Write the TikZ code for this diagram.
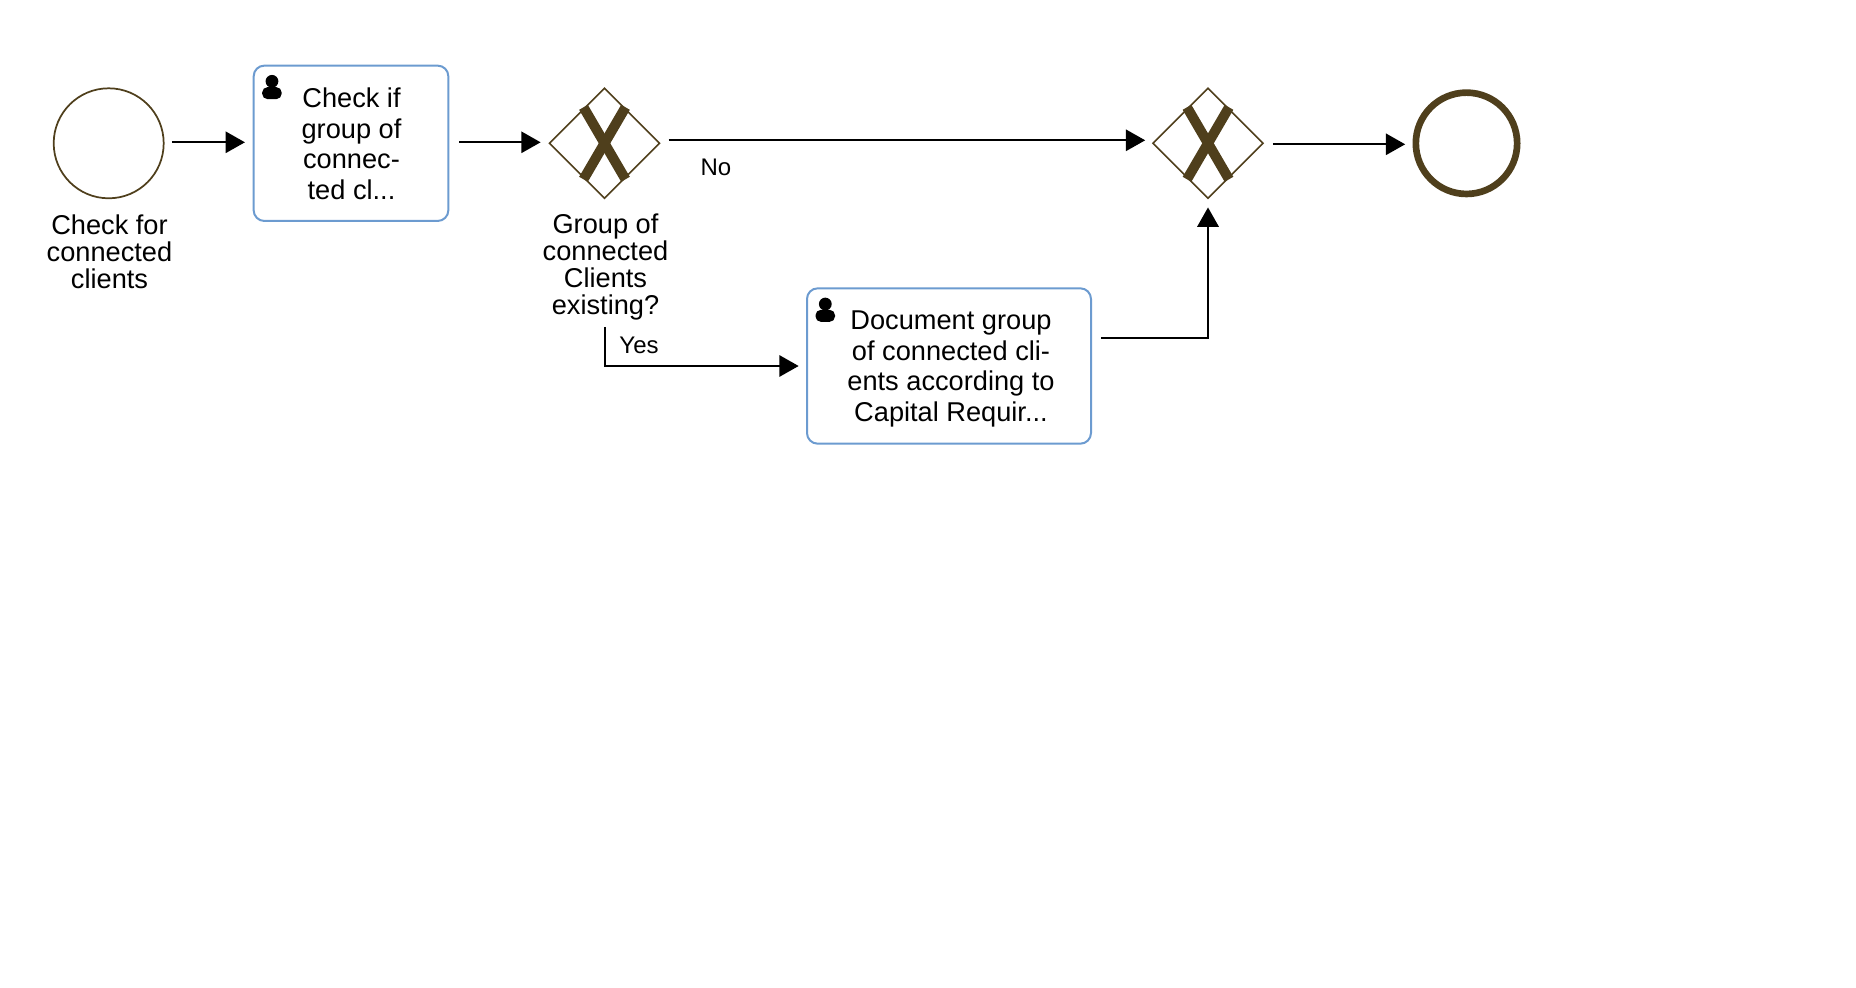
\documentclass[tikz,border=0pt]{standalone}
\usepackage{fontspec}
\setmainfont{Liberation Sans}
\usetikzlibrary{shapes.geometric,arrows.meta}
\definecolor{bpmnbrown}{HTML}{4F3F1C}
\definecolor{taskblue}{HTML}{6C9BD0}
\tikzset{
  bpmnevent/.style={circle,draw=bpmnbrown,line width=1.3pt,minimum size=82.5pt,inner sep=0pt},
  bpmnend/.style={circle,draw=bpmnbrown,line width=5pt,minimum size=76pt,inner sep=0pt},
  bpmngate/.style={diamond,draw=bpmnbrown,line width=1.2pt,minimum width=83pt,minimum height=83pt,inner sep=0pt,aspect=1},
  bpmntask/.style={rectangle,rounded corners=8pt,draw=taskblue,line width=1.5pt,inner sep=0pt},
  tasktext/.style={align=center,inner sep=0pt,font=\fontsize{20.4}{22.9}\selectfont},
  caption/.style={align=center,inner sep=0pt,font=\fontsize{20.4}{20.1}\selectfont},
  flowlabel/.style={inner sep=0pt,font=\fontsize{18}{20}\selectfont},
  flow/.style={line width=1.5pt,-{Triangle[length=14.5pt,width=16pt]}},
}
\begin{document}
\begin{tikzpicture}[x=0.75pt,y=-0.75pt]
\useasboundingbox (0,0) rectangle (1856,988);

\node[bpmnevent] (start) at (108.7,143.3) {};
\node[bpmntask,minimum width=146pt,minimum height=116.5pt] (taskA) at (351,143.3) {};
\node[bpmngate] (gateA) at (604.5,143.3) {};
\node[bpmngate] (gateB) at (1208,143.3) {};
\node[bpmnend] (end) at (1466.5,143.3) {};
\node[bpmntask,minimum width=213pt,minimum height=116.5pt] (taskB) at (949,366) {};

\node[tasktext] (taskAtext) at (351.5,144) {Check if\\group of\\connec-\\ted cl...};
\node[tasktext] (taskBtext) at (951,369) {Document group\\of connected cli-\\ents according to\\Capital Requir...};
\node[caption] (startlabel) at (109.5,251.5) {Check for\\connected\\clients};
\node[caption] (gatelabel) at (605.5,267) {Group of\\connected\\Clients\\existing?};
\node[flowlabel] (nolabel) at (716,167) {No};
\node[flowlabel] (yeslabel) at (639,345.5) {Yes};

% gateway crosses
\foreach \g in {gateA,gateB} {
  \draw[bpmnbrown,line width=7.5pt] ([shift={(-21,-36)}]\g.center) -- ([shift={(21,36)}]\g.center);
  \draw[bpmnbrown,line width=7.5pt] ([shift={(21,-36)}]\g.center) -- ([shift={(-21,36)}]\g.center);
}

% user icons
\foreach \t in {taskA,taskB} {
  \fill ([shift={(19.3,16.7)}]\t.north west) circle (4.8pt);
  \fill[rounded corners=4pt] ([shift={(9.5,22.5)}]\t.north west) rectangle ([shift={(29,34.5)}]\t.north west);
}

\draw[flow,shorten <=5.5pt,shorten >=5.8pt] ([yshift=0.75pt]start.east) -- ([yshift=0.75pt]taskA.west);
\draw[flow,shorten <=7.5pt,shorten >=5.8pt] ([yshift=0.75pt]taskA.east) -- ([yshift=0.75pt]gateA.west);
\draw[flow,shorten <=6pt,shorten >=5pt] ([yshift=2.25pt]gateA.east) -- ([yshift=2.25pt]gateB.west);
\draw[flow,shorten <=6.5pt,shorten >=5.5pt] ([yshift=-0.75pt]gateB.east) -- ([yshift=-0.75pt]end.west);
\draw[flow,shorten >=5.5pt] ([yshift=-5pt]gateA.south |- gatelabel.south) |- (taskB.west);
\draw[flow] ([xshift=7pt,yshift=21pt]taskB.east) -| ([yshift=-6pt]gateB.south);

\end{tikzpicture}
\end{document}
